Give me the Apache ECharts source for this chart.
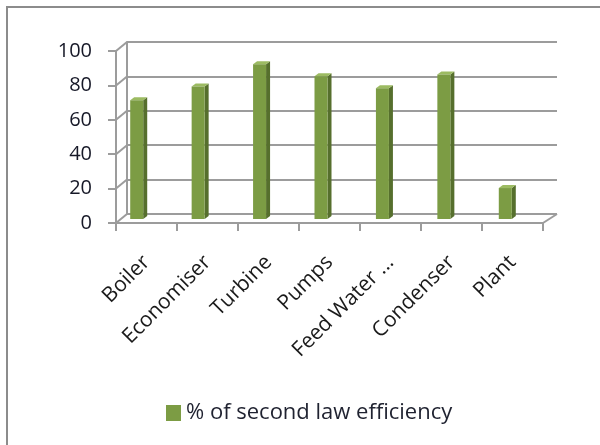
<!DOCTYPE html>
<html>
<head>
<meta charset="utf-8">
<script src="https://cdn.jsdelivr.net/npm/echarts@6/dist/echarts.min.js"></script>
<style>
  html, body { margin: 0; padding: 0; background: #fff; }
  #chart { width: 600px; height: 445px; }
</style>
</head>
<body>
<div id="chart"></div>
<script>
// Second law (exergy) efficiency of each plant component, in percent
const categories = ['Boiler', 'Economiser', 'Turbine', 'Pumps', 'Feed Water ...', 'Condenser', 'Plant'];
const efficiency = [69, 77, 90, 83, 76, 84, 18];
const seriesName = '% of second law efficiency';

// Value axis range and step
const yMin = 0;
const yMax = 100;
const yStep = 20;

const FONT = 'Open Sans';
const GRID_COLOR = '#9c9c9c';
const BAR_FRONT = '#7c9c44';
const BAR_SIDE = '#566f2d';
const BAR_TOP = '#9cbb62';

// Front plane (axes), back wall (gridlines), mid-depth plane (columns)
const front = { left: 116, top: 51, width: 427, height: 172 };
const back = { left: 127, top: 42, width: 430, height: 172 };
const mid = { left: 106, top: 47, width: 430, height: 172 };

const chart = echarts.init(document.getElementById('chart'), null, { renderer: 'canvas' });

// Column with a thin lit top and shaded right side
function renderColumn(params, api) {
  const idx = api.value(0);
  const v = api.value(1);
  const topPt = api.coord([idx, v]);
  const basePt = api.coord([idx, 0]);
  const w = 13, dx = 4, dy = -3;
  const l = topPt[0] - w / 2;
  const r = topPt[0] + w / 2;
  const t = topPt[1];
  const b = basePt[1];
  return {
    type: 'group',
    children: [
      { type: 'polygon', shape: { points: [[r, t], [r + dx, t + dy], [r + dx, b + dy], [r, b]] }, style: { fill: BAR_SIDE } },
      { type: 'polygon', shape: { points: [[l, t], [l + dx, t + dy], [r + dx, t + dy], [r, t]] }, style: { fill: BAR_TOP } },
      { type: 'rect', shape: { x: l, y: t, width: w, height: b - t }, style: { fill: BAR_FRONT } }
    ]
  };
}

const option = {
  backgroundColor: '#ffffff',
  animation: false,
  grid: [
    Object.assign({ containLabel: false }, front),
    Object.assign({ containLabel: false }, back),
    Object.assign({ containLabel: false }, mid)
  ],
  legend: {
    data: [seriesName],
    left: 166,
    top: 402,
    padding: 0,
    icon: 'rect',
    itemWidth: 15,
    itemHeight: 16,
    itemGap: 6,
    textStyle: { fontFamily: FONT, fontSize: 22, color: '#1f2230' }
  },
  xAxis: [
    {
      type: 'category',
      gridIndex: 0,
      data: categories,
      axisLine: { show: true, lineStyle: { color: GRID_COLOR, width: 2 } },
      axisTick: { show: true, interval: 0, length: 8, lineStyle: { color: GRID_COLOR, width: 2 } },
      axisLabel: {
        interval: 0,
        rotate: 45,
        margin: 36,
        fontFamily: FONT,
        fontSize: 21,
        color: '#1a1a1a'
      },
      splitLine: { show: false }
    },
    { type: 'category', gridIndex: 1, data: categories, show: false },
    { type: 'category', gridIndex: 2, data: categories, show: false }
  ],
  yAxis: [
    {
      type: 'value',
      gridIndex: 0,
      min: yMin, max: yMax, interval: yStep,
      axisLine: { show: true, lineStyle: { color: GRID_COLOR, width: 2 } },
      axisTick: { show: true, length: 8, lineStyle: { color: GRID_COLOR, width: 2 } },
      axisLabel: { margin: 24, fontFamily: FONT, fontSize: 20, color: '#161827' },
      splitLine: { show: false }
    },
    {
      type: 'value',
      gridIndex: 1,
      min: yMin, max: yMax, interval: yStep,
      axisLine: { show: true, lineStyle: { color: GRID_COLOR, width: 2 } },
      axisTick: { show: false },
      axisLabel: { show: false },
      splitLine: { show: true, lineStyle: { color: GRID_COLOR, width: 2 } }
    },
    {
      type: 'value',
      gridIndex: 2,
      min: yMin, max: yMax, interval: yStep,
      show: false
    }
  ],
  series: [
    {
      name: seriesName,
      type: 'custom',
      xAxisIndex: 2,
      yAxisIndex: 2,
      itemStyle: { color: BAR_FRONT },
      renderItem: renderColumn,
      data: efficiency.map((v, i) => [i, v]),
      z: 5
    }
  ]
};

chart.setOption(option);

// Side wall and floor edges joining the front axes to the back wall
const edges = [];
for (let v = yMin; v <= yMax; v += yStep) {
  const yf = chart.convertToPixel({ yAxisIndex: 0 }, v);
  const yb = chart.convertToPixel({ yAxisIndex: 1 }, v);
  edges.push({
    type: 'line',
    shape: { x1: front.left, y1: yf, x2: back.left, y2: yb },
    style: { stroke: GRID_COLOR, lineWidth: 2 },
    z: 1
  });
}
const y0f = chart.convertToPixel({ yAxisIndex: 0 }, yMin);
const y0b = chart.convertToPixel({ yAxisIndex: 1 }, yMin);
edges.push({
  type: 'line',
  shape: { x1: front.left + front.width, y1: y0f, x2: back.left + back.width, y2: y0b },
  style: { stroke: GRID_COLOR, lineWidth: 2 },
  z: 1
});

// Chart area frame
edges.push({
  type: 'rect',
  shape: { x: 7, y: 7, width: 620, height: 460 },
  style: { fill: 'none', stroke: '#8c8c8c', lineWidth: 2 },
  z: 0
});

chart.setOption({ graphic: edges });
</script>
</body>
</html>
